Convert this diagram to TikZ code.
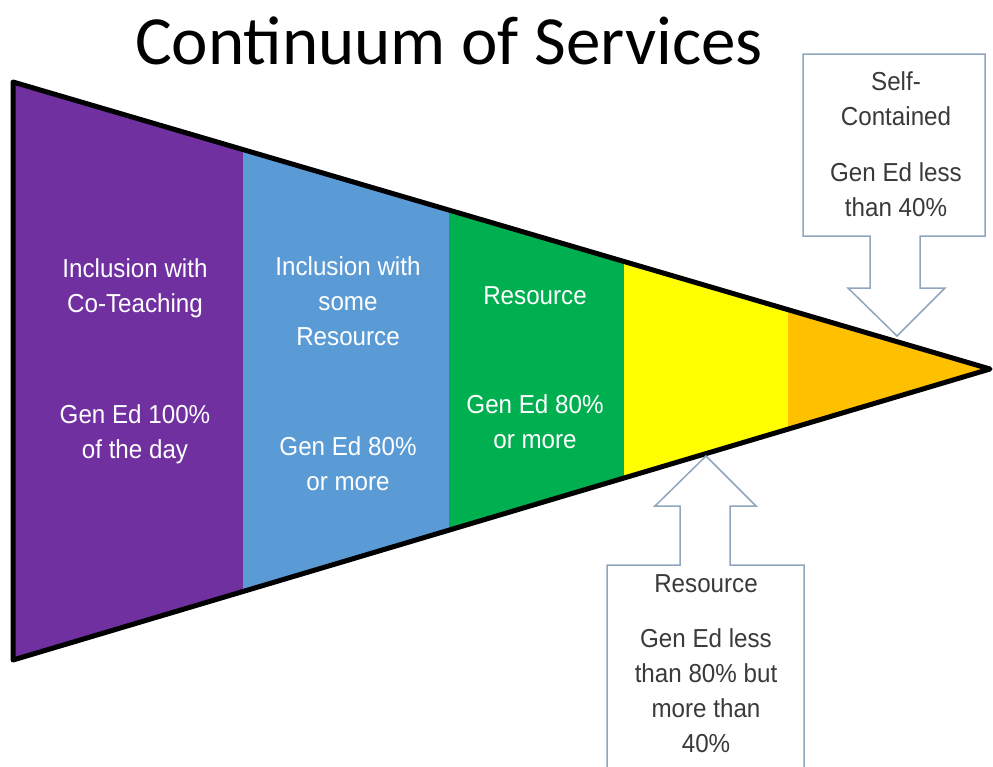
\documentclass[tikz,border=0pt]{standalone}
\usepackage{fontspec}
\setmainfont{Liberation Sans}[FakeStretch=0.93]
\newfontfamily\titlefont{Carlito}
\usepackage{tikz}
\definecolor{coteach}{HTML}{7030A0}
\definecolor{someres}{HTML}{5B9BD5}
\definecolor{resgreen}{HTML}{00B050}
\definecolor{resyellow}{HTML}{FFFF00}
\definecolor{selfcont}{HTML}{FFC000}
\definecolor{calloutline}{HTML}{8FA6BE}
\definecolor{callouttxt}{HTML}{3A3A3A}

\begin{document}
\begin{tikzpicture}[x=1pt,y=-1pt,
	bandtext/.style={text=white,align=center,font=\fontsize{26}{35}\selectfont},
	callouttext/.style={text=callouttxt,align=center,font=\fontsize{26}{35}\selectfont},
	callout/.style={draw=calloutline,line width=1.5pt,fill=white,line join=miter}]
			\useasboundingbox (0,0) rectangle (993,766);
			\clip (0,0) rectangle (993,766);
			
			\node[anchor=base,font=\titlefont\fontsize{69}{77}\selectfont] (title) at (449,64) {Continuum of Services};
			
			% the bands of the funnel
			\begin{scope}
				\clip (13,82) -- (990,369) -- (13,660) -- cycle;
				\fill[coteach] (10,60) rectangle (243,690);
				\fill[someres] (243,60) rectangle (449,690);
				\fill[resgreen] (449,60) rectangle (624,690);
				\fill[resyellow] (624,60) rectangle (788,690);
				\fill[selfcont] (788,60) rectangle (995,690);
			\end{scope}
			\draw [line width=5pt, line join=round] (13,82) -- (990,369) -- (13,660) -- cycle;
			
			\node[bandtext] (coteachname) at (135,288) {Inclusion with\\Co-Teaching};
			\node[bandtext] (coteachtime) at (135,434) {Gen Ed 100\%\\of the day};
			
			\node[bandtext] (someresname) at (348,301) {Inclusion with\\some\\Resource};
			\node[bandtext] (someresimte) at (348,464) {Gen Ed 80\%\\or more};
			
			\node[bandtext] (resname) at (535,296) {Resource};
			\node[bandtext] (restime) at (535,422) {Gen Ed 80\%\\or more};
			
			% callouts
			\draw [callout] (803,54) -- (985,54) -- (985,236) -- (920,236) -- (920,288) -- (945,288) -- (897,336) -- (848,288) -- (870,288) -- (870,236) -- (803,236) -- cycle;
			\node[callouttext] (selfname) at (896,99) {Self-\\Contained};
			\node[callouttext] (selftime) at (896,190) {Gen Ed less\\than 40\%};
			
			\draw [callout] (607,790) -- (607,565) -- (680,565) -- (680,506) -- (655,506) -- (706,456) -- (756,506) -- (730,506) -- (730,565) -- (804,565) -- (804,790);
			\node[callouttext] (partname) at (706,584) {Resource};
			\node[callouttext] (parttime) at (706,691) {Gen Ed less\\than 80\% but\\more than\\40\%};
\end{tikzpicture}
\end{document}
